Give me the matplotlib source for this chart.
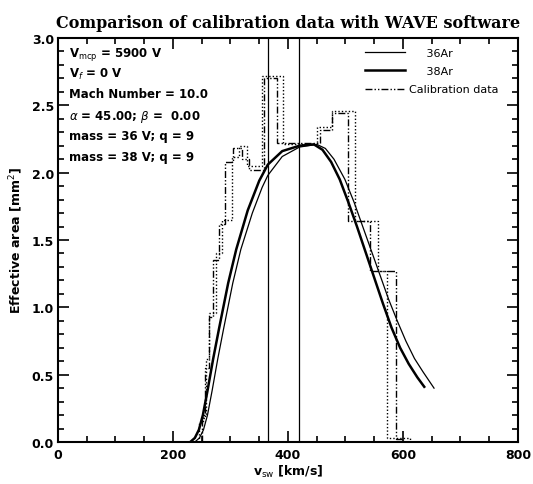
import matplotlib
matplotlib.use("Agg")
import matplotlib.pyplot as plt
from matplotlib.ticker import MultipleLocator, FormatStrFormatter

# ---- data ----
# 36Ar model (thin line)
ar36_x = [238, 246, 253, 260, 268, 278, 288, 304, 318, 338, 355, 365, 390, 420, 450,
          465, 480, 499, 515, 530, 545, 560, 575, 590, 605, 620, 635, 654]
ar36_y = [0.0, 0.03, 0.09, 0.20, 0.38, 0.62, 0.84, 1.18, 1.43, 1.70, 1.89, 1.98, 2.12, 2.19, 2.21,
          2.18, 2.10, 1.95, 1.78, 1.60, 1.42, 1.24, 1.06, 0.90, 0.75, 0.62, 0.52, 0.40]
# 38Ar model (thick line)
ar38_x = [230, 238, 245, 252, 260, 270, 280, 296, 310, 330, 350, 365, 390, 420, 445,
          460, 475, 490, 505, 520, 535, 550, 565, 580, 595, 610, 625, 637]
ar38_y = [0.0, 0.03, 0.09, 0.20, 0.38, 0.62, 0.84, 1.18, 1.43, 1.72, 1.94, 2.06, 2.16, 2.20, 2.21,
          2.17, 2.08, 1.95, 1.78, 1.60, 1.41, 1.22, 1.03, 0.85, 0.70, 0.58, 0.48, 0.41]

# calibration data, two step series (bin edges and values)
cal1_edges = [245, 252, 258, 263, 275, 285, 303, 314, 328, 355, 392, 450, 477, 517, 557, 572, 612]
cal1_vals = [0.15, 0.20, 0.62, 0.96, 1.40, 1.65, 2.12, 2.20, 2.05, 2.72, 2.21, 2.34, 2.46, 1.64, 1.27, 0.03]
cal2_edges = [250, 256, 262, 270, 280, 290, 305, 320, 332, 358, 381, 455, 477, 505, 543, 588, 600]
cal2_vals = [0.18, 0.55, 0.93, 1.35, 1.62, 2.08, 2.18, 2.10, 2.02, 2.70, 2.22, 2.32, 2.44, 1.64, 1.27, 0.02]

vlines_x = [366, 420]

info_lines = [r"V$_{\mathrm{mcp}}$ = 5900 V",
              r"V$_{f}$ = 0 V",
              "Mach Number = 10.0",
              r"$\alpha$ = 45.00; $\beta$ =  0.00",
              "mass = 36 V; q = 9",
              "mass = 38 V; q = 9"]

title = "Comparison of calibration data with WAVE software"
xlabel = r"v$_{\mathrm{sw}}$ [km/s]"
ylabel = r"Effective area [mm$^{2}$]"

# ---- figure ----
fig = plt.figure(figsize=(5.33, 4.85), dpi=100)
ax = fig.add_axes([0.1088, 0.0866, 0.863, 0.833])

ax.stairs(cal1_vals, cal1_edges, color="black", lw=1.0, linestyle=(0, (1, 1.5)))
ax.stairs(cal2_vals, cal2_edges, color="black", lw=1.0,
          linestyle=(0, (5, 1.5, 1, 1.5, 1, 1.5)), label="Calibration data")

ax.plot(ar36_x, ar36_y, color="black", lw=0.9, label="     36Ar")
ax.plot(ar38_x, ar38_y, color="black", lw=1.8, label="     38Ar")

for v in vlines_x:
    ax.axvline(v, color="black", lw=0.9)

ax.set_xlim(0, 800)
ax.set_ylim(0, 3.0)
ax.xaxis.set_major_locator(MultipleLocator(200))
ax.xaxis.set_minor_locator(MultipleLocator(50))
ax.yaxis.set_major_locator(MultipleLocator(0.5))
ax.yaxis.set_minor_locator(MultipleLocator(0.1))
ax.yaxis.set_major_formatter(FormatStrFormatter("%.1f"))
ax.tick_params(which="both", direction="in", top=True, right=True, width=1.2,
               labelsize=9)
ax.tick_params(which="major", length=8)
ax.tick_params(which="minor", length=4)
ax.tick_params(axis="x", which="major", pad=4)
ax.tick_params(axis="y", which="major", pad=3)
for lab in ax.get_xticklabels() + ax.get_yticklabels():
    lab.set_fontweight("bold")
for s in ax.spines.values():
    s.set_linewidth(1.5)

ax.set_title(title, fontsize=11.5, fontweight="bold", family="DejaVu Serif", pad=8)
ax.set_xlabel(xlabel, fontsize=9, fontweight="bold", labelpad=2)
ax.set_ylabel(ylabel, fontsize=9, fontweight="bold", labelpad=5)

for i, t in enumerate(info_lines):
    ax.text(0.025, 0.982 - i * 0.052, t, transform=ax.transAxes, fontsize=8.5,
            fontweight="bold", va="top", ha="left")

h, l = ax.get_legend_handles_labels()
order = [1, 2, 0]
leg = ax.legend([h[i] for i in order], [l[i] for i in order], loc="upper right",
                frameon=False, fontsize=8, handlelength=3.6, handletextpad=0.4,
                labelspacing=0.75, borderaxespad=0.3,
                bbox_to_anchor=(0.975, 0.995))

fig.savefig("out.png", dpi=100)
